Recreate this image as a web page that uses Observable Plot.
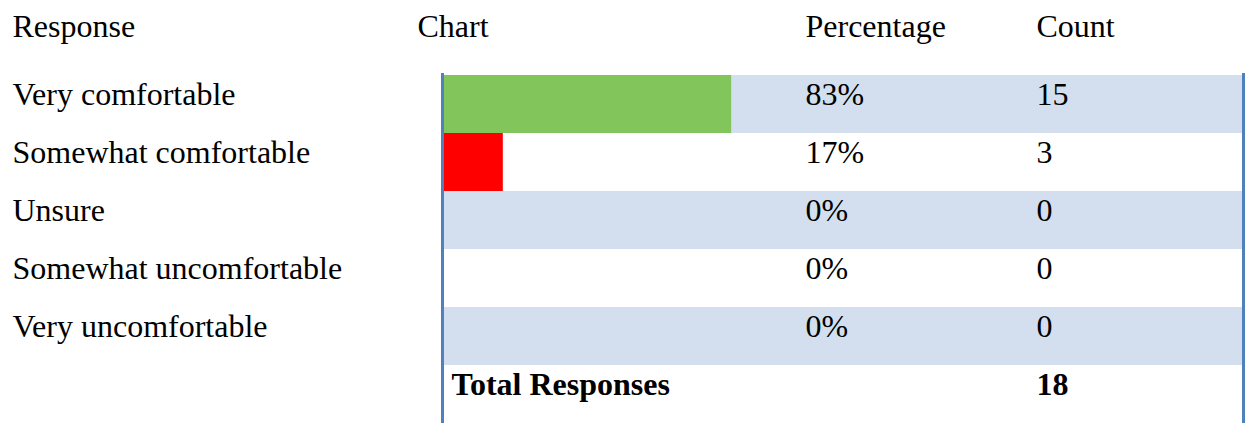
<!DOCTYPE html>
<html><head><meta charset="utf-8">
<script src="https://cdn.jsdelivr.net/npm/d3@7"></script>
<script src="https://cdn.jsdelivr.net/npm/@observablehq/plot@0.6"></script>
<style>body{margin:0;background:#fff}</style>
</head><body><div id="chart"></div>
<script>
const responses = ["Very comfortable","Somewhat comfortable","Unsure","Somewhat uncomfortable","Very uncomfortable"];
const percentages = [83, 17, 0, 0, 0];
const counts = [15, 3, 0, 0, 0];
const totalLabel = "Total Responses";
const totalCount = 18;
const headers = ["Response", "Chart", "Percentage", "Count"];
const barColors = ["#82C55B", "#FF0000", "#82C55B", "#82C55B", "#82C55B"];

const rows = responses.map((r, i) => ({response: r, pct: percentages[i] / 100, pctLabel: percentages[i] + "%", count: String(counts[i]), shaded: i % 2 === 0}));
const yDomain = [...responses, totalLabel];
const font = "'Liberation Serif', 'Times New Roman', serif";
const fs = 32;
const ink = "#000";
const L = 444;
const colDx = {response: 12 - L, chart: 417 - L, total: 451 - L, pct: 805 - L, count: 1036 - L};

const txt = (data, o) => Plot.text(data, {frameAnchor: "left", textAnchor: "start", lineAnchor: "bottom", fontSize: fs, fontFamily: font, fill: ink, ...o});
const head = (label, dx) => Plot.text([label], {text: d => d, frameAnchor: "top-left", textAnchor: "start", lineAnchor: "bottom", dx, dy: -38, fontSize: fs, fontFamily: font, fill: ink});

const chart = Plot.plot({
  width: 1248, height: 423,
  marginLeft: L, marginRight: 6, marginTop: 74, marginBottom: 0,
  style: {fontFamily: font, fontSize: fs + "px", color: ink, background: "#fff"},
  x: {domain: [0, 1], range: [L, 790], axis: null},
  y: {domain: yDomain, padding: 0, axis: null},
  color: {domain: responses, range: barColors},
  marks: [
    Plot.cell(rows.filter(d => d.shaded), {y: "response", fill: "#D3DFEE"}),
    Plot.barX(rows, {y: "response", x: "pct", fill: "response"}),
    Plot.ruleX(rows.filter(d => d.shaded && d.pct > 0), {x: "pct", y: "response", stroke: "white", strokeWidth: 1, dx: 0.5}),
    head(headers[0], colDx.response),
    head(headers[1], colDx.chart),
    head(headers[2], colDx.pct),
    head(headers[3], colDx.count),
    txt(rows, {y: "response", text: "response", dx: colDx.response}),
    txt(rows, {y: "response", text: "pctLabel", dx: colDx.pct}),
    txt(rows, {y: "response", text: "count", dx: colDx.count}),
    txt([totalLabel], {y: d => d, text: d => d, dx: colDx.total, fontWeight: "bold"}),
    txt([totalLabel], {y: d => d, text: () => String(totalCount), dx: colDx.count, fontWeight: "bold"}),
    Plot.frame({anchor: "left", stroke: "#4F81BD", strokeWidth: 3, dx: -2}),
    Plot.frame({anchor: "right", stroke: "#4F81BD", strokeWidth: 3, dx: 1})
  ]
});
document.getElementById("chart").appendChild(chart);
</script>
</body></html>
